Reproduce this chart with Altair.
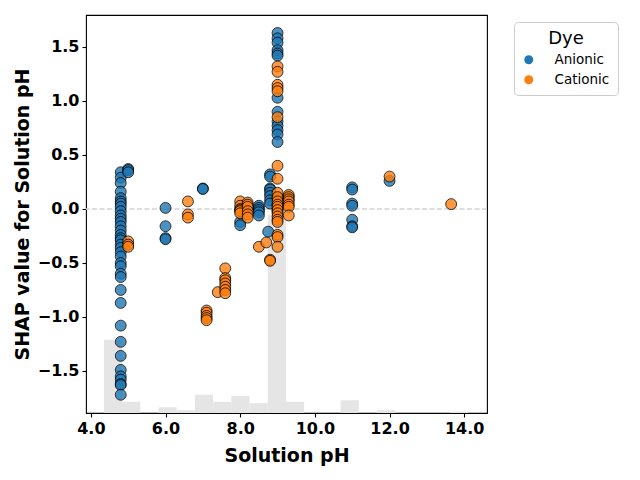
import altair as alt
import pandas as pd

# Anionic dyes: solution pH and its SHAP contribution
anionic_ph = (
    [4.8] * 36
    + [5.0] * 3
    + [6.0] * 4
    + [7.0] * 2
    + [8.0] * 2
    + [8.5] * 5
    + [8.75]
    + [8.8] * 8
    + [9.0] * 17
    + [11.0] * 7
    + [12.0]
)
anionic_shap = (
    [0.34, 0.29, 0.24, 0.16, 0.10, 0.07, 0.05, 0.02, -0.02, -0.06, -0.09, -0.12,
     -0.16, -0.20, -0.24, -0.27, -0.29, -0.33, -0.36, -0.40, -0.44, -0.50, -0.53,
     -0.60, -0.63, -0.75, -0.87, -1.08, -1.23, -1.36, -1.49, -1.55, -1.58, -1.62,
     -1.63, -1.72]
    + [0.37, 0.36, 0.34]
    + [0.01, -0.16, -0.27, -0.28]
    + [0.19, 0.185]
    + [-0.12, -0.15]
    + [0.03, 0.01, -0.01, -0.03, -0.06]
    + [-0.21]
    + [0.32, 0.30, 0.19, 0.18, 0.15, 0.12, 0.08, 0.05]
    + [1.63, 1.58, 1.54, 1.47, 1.44, 1.42, 1.03, 0.90, 0.81, 0.77, 0.73, 0.69,
       0.62, 0.10, 0.04, 0.00, -0.02]
    + [0.20, 0.18, 0.05, 0.03, -0.10, -0.16, -0.17]
    + [0.26]
)

# Cationic dyes: solution pH and its SHAP contribution
cationic_ph = (
    [5.0] * 3
    + [6.6] * 3
    + [7.1] * 5
    + [7.4]
    + [7.6] * 7
    + [8.0] * 6
    + [8.2] * 6
    + [8.5]
    + [8.7]
    + [8.8] * 2
    + [9.0] * 21
    + [9.3] * 7
    + [12.0]
    + [13.65]
)
cationic_shap = (
    [-0.30, -0.33, -0.35]
    + [0.07, -0.05, -0.08]
    + [-0.94, -0.96, -0.99, -1.01, -1.03]
    + [-0.77]
    + [-0.55, -0.64, -0.66, -0.69, -0.72, -0.75, -0.78]
    + [0.07, 0.03, 0.00, -0.01, -0.02, -0.04]
    + [0.06, 0.04, 0.02, -0.02, -0.05, -0.08]
    + [-0.35]
    + [-0.31]
    + [-0.47, -0.48]
    + [1.32, 1.27, 1.15, 1.12, 1.09, 0.85, 0.40, 0.28, 0.15, 0.11, 0.07, 0.04,
       0.02, -0.01, -0.04, -0.07, -0.10, -0.12, -0.24, -0.26, -0.35]
    + [0.13, 0.11, 0.09, 0.07, 0.04, 0.02, -0.06]
    + [0.30]
    + [0.045]
)

# Distribution of solution pH: 20 equal-width bins
hist_start = 4.35
hist_bin_width = 0.4875
hist_counts = [52, 8, 0, 4, 2, 13, 8, 12, 7, 141, 8, 0, 0, 9, 0, 2, 0, 0, 0, 1]

points = pd.concat(
    [
        pd.DataFrame({"ph": anionic_ph, "shap": anionic_shap, "dye": "Anionic"}),
        pd.DataFrame({"ph": cationic_ph, "shap": cationic_shap, "dye": "Cationic"}),
    ],
    ignore_index=True,
)
points["order"] = range(len(points))

hist = pd.DataFrame(
    {
        "lo": [hist_start + i * hist_bin_width for i in range(len(hist_counts))],
        "hi": [hist_start + (i + 1) * hist_bin_width for i in range(len(hist_counts))],
        "count": hist_counts,
    }
)
hist = hist[hist["count"] > 0]

x_scale = alt.Scale(domain=[3.87, 14.61], nice=False, zero=False)
y_scale = alt.Scale(domain=[-1.889, 1.796], nice=False, zero=False)

x_axis = alt.Axis(
    title="Solution pH",
    values=[4, 6, 8, 10, 12, 14],
    format=".1f",
)
y_axis = alt.Axis(
    title="SHAP value for Solution pH",
    values=[-1.5, -1.0, -0.5, 0.0, 0.5, 1.0, 1.5],
    format=".1f",
)

bars = alt.Chart(hist).mark_rect(color="#e5e5e5").encode(
    x=alt.X("lo:Q", scale=x_scale, axis=x_axis),
    x2="hi:Q",
    y=alt.Y("count:Q", scale=alt.Scale(domain=[0, 283], nice=False), axis=None),
    y2=alt.datum(0),
)

zero_line = alt.Chart(pd.DataFrame({"y": [0.0]})).mark_rule(
    color="#d3d3d3", strokeWidth=1.4, strokeDash=[5, 2.5]
).encode(
    y=alt.Y("y:Q", scale=y_scale, axis=None),
)

dots = alt.Chart(points).mark_circle(
    size=118, opacity=0.8, stroke="black", strokeWidth=1
).encode(
    x=alt.X("ph:Q", scale=x_scale, axis=x_axis),
    y=alt.Y("shap:Q", scale=y_scale, axis=y_axis),
    color=alt.Color(
        "dye:N",
        scale=alt.Scale(domain=["Anionic", "Cationic"], range=["#1f77b4", "#ff7f0e"]),
        legend=alt.Legend(
            title="Dye",
            orient="none",
            legendX=428,
            legendY=7,
            titleAnchor="middle",
            titleFont="DejaVu Sans",
            titleFontSize=18,
            titleFontWeight="normal",
            titleColor="black",
            titlePadding=5,
            labelFont="DejaVu Sans",
            labelFontSize=13.5,
            labelColor="black",
            symbolType="circle",
            symbolSize=80,
            symbolStrokeWidth=0,
            symbolOpacity=1,
            labelOffset=19,
            rowPadding=5,
            padding=8,
            strokeColor="#cccccc",
            fillColor="white",
            cornerRadius=4,
        ),
    ),
    order="order:Q",
)

chart = (
    alt.layer(bars, zero_line, dots)
    .resolve_scale(y="independent")
    .properties(
        width=401,
        height=398,
        padding={"left": 86, "top": 15, "right": 153, "bottom": 67},
        autosize=alt.AutoSizeParams(type="none"),
    )
    .configure_view(stroke="black", strokeWidth=1.1)
    .configure_axis(
        grid=False,
        domain=False,
        ticks=True,
        tickColor="black",
        tickSize=4,
        tickWidth=1.1,
        labelFont="DejaVu Sans",
        labelFontSize=16,
        labelFontWeight="bold",
        labelColor="black",
        labelPadding=3,
        titleFont="DejaVu Sans",
        titleFontSize=19,
        titleFontWeight="bold",
        titleColor="black",
    )
    .configure_axisX(titlePadding=10)
    .configure_axisY(titlePadding=5)
)

chart.save("out.html", embed_options={"renderer": "svg", "actions": False})
